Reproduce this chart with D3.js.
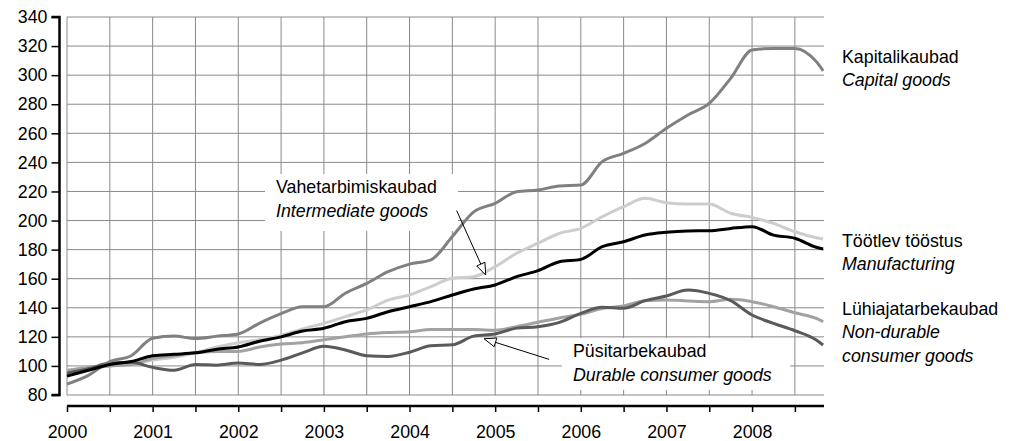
<!DOCTYPE html>
<html><head><meta charset="utf-8">
<script src="https://cdn.jsdelivr.net/npm/d3@7"></script>
<style>
body{margin:0;background:#fff;}
text{font-family:"Liberation Sans",Arial,sans-serif;}
</style></head>
<body><svg id="c" width="1009" height="441"></svg>
<script>
const times = [2000,2000.25,2000.5,2000.75,2001,2001.25,2001.5,2001.75,2002,2002.25,2002.5,2002.75,
2003,2003.25,2003.5,2003.75,2004,2004.25,2004.5,2004.75,2005,2005.25,2005.5,2005.75,
2006,2006.25,2006.5,2006.75,2007,2007.25,2007.5,2007.75,2008,2008.25,2008.5,2008.75,2008.83];

const capital = [87.5,93.5,103,107,119,120.5,118.8,120.5,122,129.5,136,140.7,
140.7,150,156.8,164.8,170,173,189,206,211.8,219.8,221,223.8,
224.4,240.5,246.2,253,263.4,272.6,280.6,297.8,317.3,318.4,318.4,309.3,303];
const intermediate = [96.5,98,100,101.5,104,106,109,113,116,118,121,125.5,
129.3,133.9,138.5,145.3,148.8,154.5,160.3,161.4,168.3,177.5,184.4,191.2,
194.6,202.6,209.5,215.3,212.3,211.4,211.4,205,202.2,198,192.3,188.2,187.3];
const manufacturing = [93,97,101,103,107,108,109,111.5,113,117,120,124,
125.9,130.4,132.7,137.3,140.7,144.2,148.8,152.9,155.7,161.4,165.5,171.7,
173.3,182,185.4,190,191.9,192.8,193,194.6,195.8,190,187.8,181.6,180.4];
const nondurable = [97,99,100,101,105,107,109,110,110,113,115,116,
118,120,122,123,123.5,125,125,125,124.5,127,130,133,
135.5,139.5,141.2,144.9,145.3,144.7,144.2,145.8,144.2,140.7,136.6,132.7,130.4];
const durable = [95,98,102,102.5,99,97,101,100.5,102,101,104,109,
113.5,111,107,106.5,109.4,113.9,114.5,120.5,122,126,127,130,
136.2,140.3,139.6,144.9,148.1,152.2,149.9,144.9,135,129.3,124.2,117.8,114.4];

const yTicks = [80,100,120,140,160,180,200,220,240,260,280,300,320,340];
const yearLabels = [2000,2001,2002,2003,2004,2005,2006,2007,2008];

const seriesNames = [
  {key:"intermediate", values:intermediate},
  {key:"nondurable", values:nondurable},
  {key:"durable", values:durable},
  {key:"capital", values:capital},
  {key:"manufacturing", values:manufacturing}
];
const colors = {intermediate:"#cdcdcd", nondurable:"#a2a2a2", durable:"#5a5a5a", capital:"#808080", manufacturing:"#000"};

const svg = d3.select("#c");
const FS = 17.8;
const x = d3.scaleLinear().domain([2000, 2008.84]).range([67, 824]);
const y = d3.scaleLinear().domain([80, 340]).range([395, 17]);

// grid
const halfYears = d3.range(2000, 2008.84, 0.5);
const g = svg.append("g");
g.selectAll("line.v").data(halfYears).enter().append("line")
  .attr("x1", d=>x(d)).attr("x2", d=>x(d)).attr("y1", y(80)).attr("y2", y(340))
  .attr("stroke", "#8a8a8a").attr("stroke-width", 1);
g.selectAll("line.h").data(yTicks).enter().append("line")
  .attr("x1", x(2000)).attr("x2", x(2008.84)).attr("y1", d=>y(d)).attr("y2", d=>y(d))
  .attr("stroke", "#8a8a8a").attr("stroke-width", 1);

// label boxes (white)
svg.append("rect").attr("x", 265).attr("y", 174).attr("width", 193).attr("height", 57).attr("fill", "#fff");
svg.append("rect").attr("x", 562).attr("y", 338).attr("width", 228).attr("height", 52).attr("fill", "#fff");

// lines
const line = d3.line().x((d,i)=>x(times[i])).y(d=>y(d)).curve(d3.curveMonotoneX);
svg.selectAll("path.s").data(seriesNames).enter().append("path")
  .attr("d", d=>line(d.values)).attr("fill","none")
  .attr("stroke", d=>colors[d.key]).attr("stroke-width", 3).attr("stroke-linejoin","round");

// y axis
const yAxis = d3.axisLeft(y).tickValues(yTicks).tickSize(8).tickPadding(4);
const ya = svg.append("g").attr("transform","translate(59.5,0)").call(yAxis);
ya.select(".domain").attr("stroke-width", 2.5).attr("d", `M-8,${y(340)}H0V${y(80)}H-8`);
ya.selectAll(".tick line").attr("stroke-width", 1.5);
ya.selectAll("text").attr("font-size", FS).attr("fill","#000").style("font-family","Liberation Sans, Arial, sans-serif");

// x axis
const xAxis = d3.axisBottom(x).tickValues(halfYears).tickSize(6).tickFormat(d=> yearLabels.includes(d) ? String(d) : "");
const xa = svg.append("g").attr("transform","translate(0,406)").call(xAxis);
xa.select(".domain").attr("stroke-width", 2.5).attr("d", `M${x(2000)},0H${x(2008.84)}`);
xa.selectAll(".tick line").attr("stroke-width", 1.5);
xa.selectAll("text").attr("font-size", FS).attr("fill","#000").attr("dy", 0).attr("y", 32)
  .style("font-family","Liberation Sans, Arial, sans-serif");

// right labels
const rightLabels = [
  {t:"Kapitalikaubad", y:63, it:false},
  {t:"Capital goods", y:86, it:true},
  {t:"Töötlev tööstus", y:247, it:false},
  {t:"Manufacturing", y:270, it:true},
  {t:"Lühiajatarbekaubad", y:315, it:false},
  {t:"Non-durable", y:338, it:true},
  {t:"consumer goods", y:362, it:true},
  {t:"Vahetarbimiskaubad", y:193, it:false, x:276},
  {t:"Intermediate goods", y:217, it:true, x:276},
  {t:"Püsitarbekaubad", y:357, it:false, x:573},
  {t:"Durable consumer goods", y:381, it:true, x:573}
];
svg.selectAll("text.lab").data(rightLabels).enter().append("text")
  .attr("x", d=>d.x || 842).attr("y", d=>d.y).attr("font-size", FS)
  .attr("font-style", d=>d.it ? "italic":"normal").attr("fill","#000").text(d=>d.t);

// arrows (in data units)
const arrows = [
  {from:[2004.55, 162.5+37.8+6.6], to:[2004.89, 162.5]},
  {from:[2005.63, 104.5], to:[2004.87, 118.7]}
];
function drawArrow(a){
  const x1=x(a.from[0]), y1=y(a.from[1]), x2=x(a.to[0]), y2=y(a.to[1]);
  const ang = Math.atan2(y2-y1, x2-x1);
  const L=12, W=4.5;
  const bx = x2 - L*Math.cos(ang), by = y2 - L*Math.sin(ang);
  svg.append("line").attr("x1",x1).attr("y1",y1).attr("x2",bx).attr("y2",by).attr("stroke","#000").attr("stroke-width",1);
  const px = -Math.sin(ang)*W, py = Math.cos(ang)*W;
  svg.append("path").attr("d",`M${x2},${y2}L${bx+px},${by+py}L${bx-px},${by-py}Z`)
    .attr("fill","#fff").attr("stroke","#000").attr("stroke-width",1);
}
arrows.forEach(drawArrow);
</script></body></html>
